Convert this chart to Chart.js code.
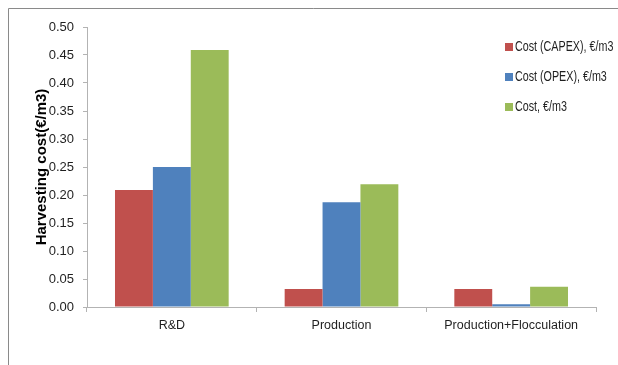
<!DOCTYPE html>
<html>
<head>
<meta charset="utf-8">
<script src="https://cdn.jsdelivr.net/npm/chart.js@4/dist/chart.umd.min.js"></script>
<style>
  html, body { margin: 0; padding: 0; background: #ffffff; }
  #wrap { position: relative; width: 618px; height: 365px; }
</style>
</head>
<body>
<div id="wrap"><canvas id="c" width="618" height="365"></canvas></div>
<script>
// Harvesting cost per stage, €/m3
const categories = ['R&D', 'Production', 'Production+Flocculation'];
const seriesNames = ['Cost (CAPEX), €/m3', 'Cost (OPEX), €/m3', 'Cost, €/m3'];
const capex = [0.209, 0.032, 0.032];
const opex  = [0.250, 0.187, 0.005];
const total = [0.459, 0.219, 0.036];
const yTicks = [0, 0.05, 0.10, 0.15, 0.20, 0.25, 0.30, 0.35, 0.40, 0.45, 0.50];
const colors = ['#C0504D', '#4F81BD', '#9BBB59'];

const AXIS_GRAY = '#b3b3b3';
const TEXT = '#1f1f1f';

// Frame lines along the top and left edge of the figure
const framePlugin = {
  id: 'frame',
  beforeDraw(chart) {
    const ctx = chart.ctx;
    ctx.save();
    ctx.fillStyle = '#ffffff';
    ctx.fillRect(0, 0, chart.width, chart.height);
    ctx.strokeStyle = '#8a8a8a';
    ctx.lineWidth = 1;
    ctx.beginPath();
    ctx.moveTo(8.5, chart.height);
    ctx.lineTo(8.5, 8.5);
    ctx.lineTo(chart.width, 8.5);
    ctx.stroke();
    ctx.restore();
  }
};

// Legend drawn at the upper right with square markers; text is set condensed
const sideLegend = {
  id: 'sideLegend',
  afterDraw(chart) {
    const ctx = chart.ctx;
    ctx.save();
    ctx.textBaseline = 'middle';
    ctx.textAlign = 'left';
    chart.data.datasets.forEach((ds, i) => {
      const y = 47 + i * 30;
      ctx.fillStyle = ds.backgroundColor;
      ctx.fillRect(505, y - 4, 8, 8);
      ctx.save();
      ctx.translate(515, y);
      ctx.scale(0.74, 1);
      ctx.font = "14.5px 'Liberation Sans', Arial, sans-serif";
      ctx.fillStyle = TEXT;
      ctx.fillText(ds.label, 0, 0);
      ctx.restore();
    });
    ctx.restore();
  }
};

const seriesValues = [capex, opex, total];

new Chart(document.getElementById('c'), {
  type: 'bar',
  data: {
    labels: categories,
    datasets: seriesNames.map((name, i) => ({
      label: name,
      data: seriesValues[i],
      backgroundColor: colors[i],
      borderWidth: 0,
      categoryPercentage: 0.67,
      barPercentage: 1.0
    }))
  },
  options: {
    responsive: false,
    animation: false,
    devicePixelRatio: 1,
    layout: { padding: { left: 8, right: 22, top: 27, bottom: 18 } },
    plugins: {
      legend: { display: false },
      tooltip: { enabled: false }
    },
    scales: {
      x: {
        grid: {
          display: true,
          offset: true,
          drawOnChartArea: false,
          drawTicks: true,
          tickLength: 5,
          color: AXIS_GRAY
        },
        border: { display: true, color: AXIS_GRAY, width: 1 },
        ticks: {
          color: TEXT,
          padding: 6,
          maxRotation: 0,
          font: { family: "'Liberation Sans', Arial, sans-serif", size: 12.5 }
        },
        afterFit(scale) { scale.height = 40; }
      },
      y: {
        min: 0,
        max: 0.5,
        afterBuildTicks(scale) { scale.ticks = yTicks.map(v => ({ value: v })); },
        grid: {
          display: true,
          drawOnChartArea: false,
          drawTicks: true,
          tickLength: 4,
          color: AXIS_GRAY
        },
        border: { display: true, color: AXIS_GRAY, width: 1 },
        ticks: {
          color: TEXT,
          padding: 9,
          callback: v => Number(v).toFixed(2),
          font: { family: "'Liberation Sans', Arial, sans-serif", size: 13 }
        },
        title: {
          display: true,
          text: 'Harvesting cost(€/m3)',
          color: '#000000',
          padding: { top: 25, bottom: 0 },
          font: { family: "'Liberation Sans', Arial, sans-serif", size: 15, weight: 'bold' }
        },
        afterFit(scale) { scale.width = 79; }
      }
    }
  },
  plugins: [framePlugin, sideLegend]
});
</script>
</body>
</html>
